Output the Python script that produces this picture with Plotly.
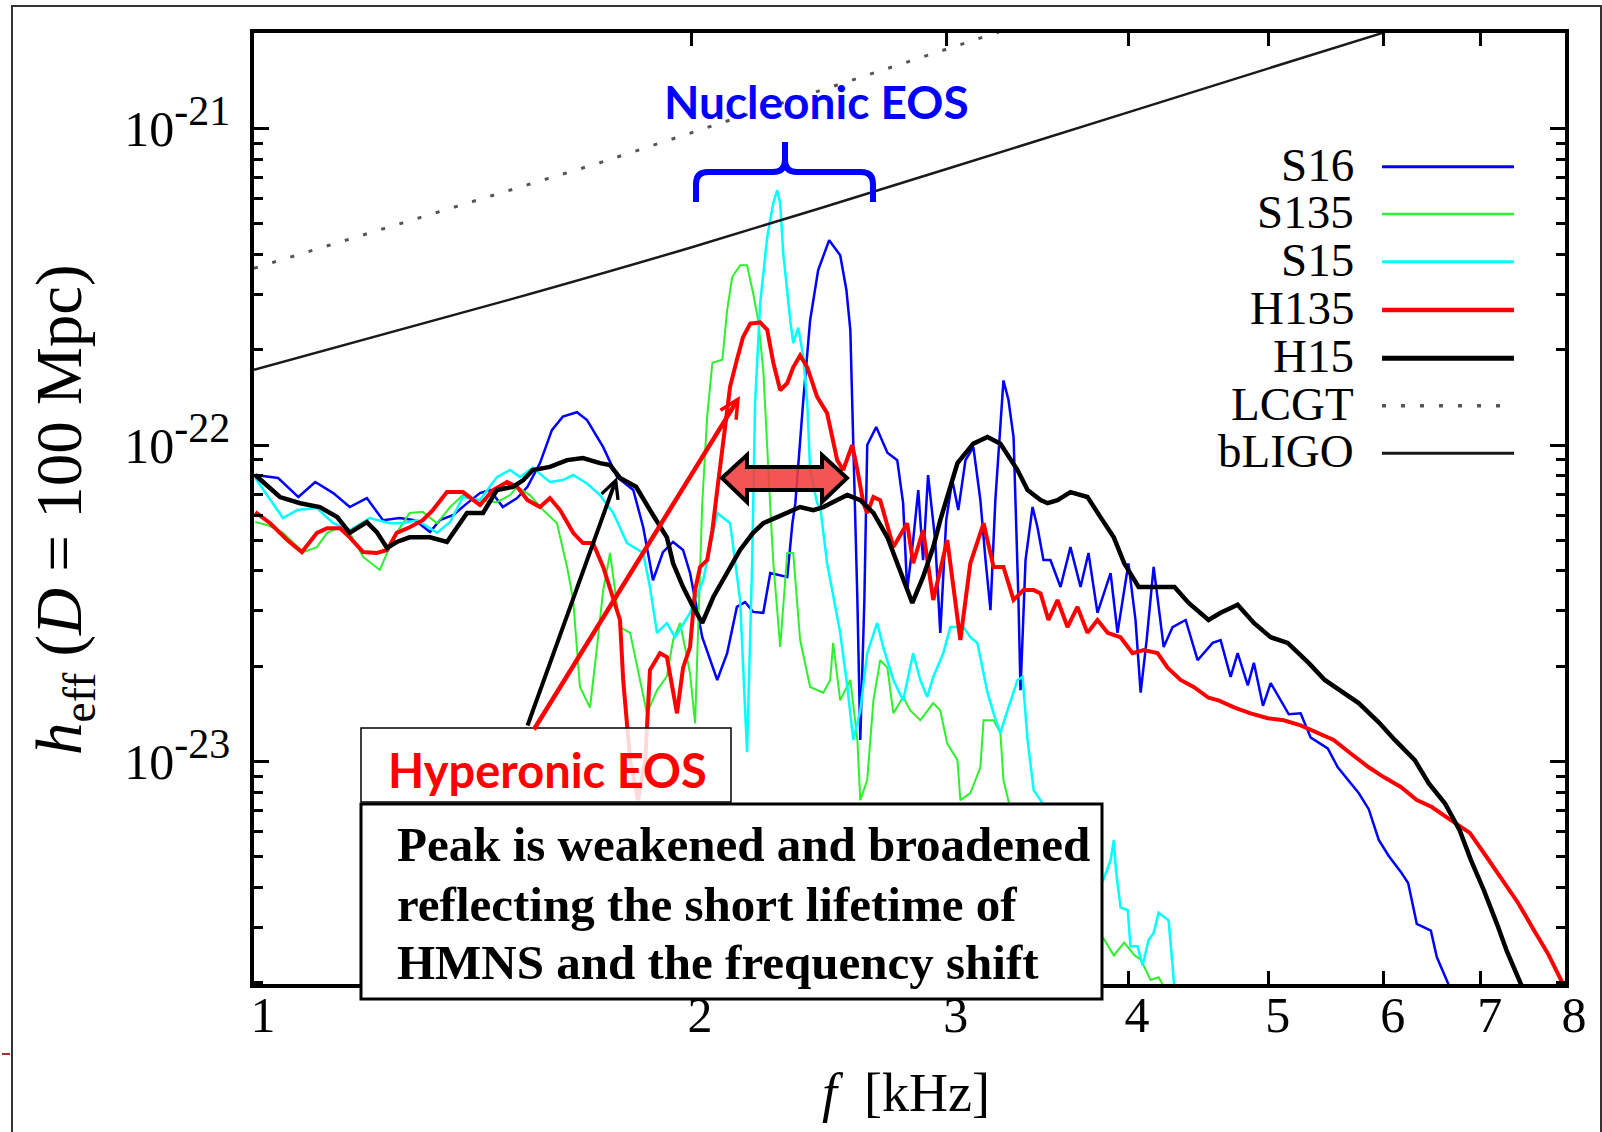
import math
import plotly.graph_objects as go

# ---------------- data (f in kHz, h_eff) ----------------
S16 = [(1.002,8.04e-23),(1.039,7.87e-23),(1.073,6.85e-23),(1.102,7.64e-23),(1.134,7.05e-23),(1.164,6.37e-23),
       (1.196,6.80e-23),(1.227,5.79e-23),(1.260,5.88e-23),(1.291,5.79e-23),(1.322,5.31e-23),(1.343,5.79e-23),
       (1.372,6.01e-23),(1.397,6.46e-23),(1.431,7.05e-23),(1.454,7.21e-23),(1.484,6.37e-23),(1.518,6.80e-23),
       (1.543,7.38e-23),(1.574,8.77e-23),(1.604,1.115e-22),(1.632,1.23e-22),(1.669,1.27e-22),(1.696,1.20e-22),
       (1.740,9.85e-23),(1.779,7.92e-23),(1.825,7.21e-23),(1.854,5.50e-23),(1.883,3.74e-23),(1.913,4.59e-23),
       (1.944,4.94e-23),(1.975,4.66e-23),(1.997,3.94e-23),(2.036,2.47e-23),(2.085,1.81e-23),(2.118,2.20e-23),
       (2.151,3.08e-23),(2.179,3.19e-23),(2.207,2.97e-23),(2.243,2.95e-23),(2.268,3.94e-23),(2.330,3.83e-23),
       (2.349,5.66e-23),(2.360,6.55e-23),(2.390,1.39e-22),(2.416,2.48e-22),(2.447,3.57e-22),(2.490,4.44e-22),
       (2.534,3.98e-22),(2.559,3.09e-22),(2.575,2.31e-22),(2.583,1.39e-22),(2.591,7.75e-23),(2.604,3.24e-23),
       (2.616,1.17e-23),(2.633,3.24e-23),(2.645,1.00e-22),(2.683,1.14e-22),(2.731,9.45e-23),(2.774,8.96e-23),
       (2.800,6.55e-23),(2.818,3.48e-23),(2.845,5.01e-23),(2.868,7.21e-23),(2.890,4.33e-23),(2.913,8.04e-23),
       (2.946,5.01e-23),(2.970,2.55e-23),(2.998,5.79e-23),(3.027,7.75e-23),(3.056,6.23e-23),(3.091,8.96e-23),
       (3.130,9.85e-23),(3.165,6.70e-23),(3.191,4.33e-23),(3.216,3.01e-23),(3.241,6.70e-23),(3.267,1.20e-22),
       (3.283,1.60e-22),(3.309,1.39e-22),(3.336,1.06e-22),(3.362,3.24e-23),(3.373,1.68e-23),(3.400,4.33e-23),
       (3.438,6.37e-23),(3.465,5.50e-23),(3.498,4.33e-23),(3.537,4.33e-23),(3.594,3.56e-23),(3.651,4.76e-23),
       (3.710,3.56e-23),(3.757,4.56e-23),(3.811,2.95e-23),(3.891,3.94e-23),(3.934,2.55e-23),(4.003,4.23e-23),
       (4.048,2.80e-23),(4.081,1.65e-23),(4.120,2.42e-23),(4.166,4.12e-23),(4.233,2.30e-23),(4.293,2.66e-23),
       (4.383,2.80e-23),(4.467,2.09e-23),(4.575,2.37e-23),(4.633,2.42e-23),(4.707,1.85e-23),(4.760,2.20e-23),
       (4.837,1.74e-23),(4.884,2.05e-23),(4.955,1.50e-23),(5.016,1.77e-23),(5.162,1.41e-23),(5.260,1.42e-23),
       (5.345,1.19e-23),(5.491,1.10e-23),(5.579,9.59e-24),(5.767,7.95e-24),(5.860,7.07e-24),(5.954,5.65e-24),
       (6.049,5.03e-24),(6.166,4.48e-24),(6.238,4.13e-24),(6.324,3.07e-24),(6.467,2.92e-24),(6.528,2.41e-24),
       (6.633,2.04e-24),(6.698,1.83e-24)]

S135 = [(1.002,5.71e-23),(1.022,5.58e-23),(1.047,5.28e-23),(1.081,4.59e-23),(1.105,4.76e-23),(1.123,5.28e-23),
        (1.146,5.50e-23),(1.164,5.28e-23),(1.189,4.43e-23),(1.221,4.03e-23),(1.235,4.56e-23),(1.254,5.28e-23),
        (1.280,6.10e-23),(1.307,6.15e-23),(1.337,5.66e-23),(1.365,6.37e-23),(1.393,6.95e-23),(1.424,6.70e-23),
        (1.470,6.60e-23),(1.501,6.95e-23),(1.518,7.38e-23),(1.549,6.95e-23),(1.582,6.23e-23),(1.617,5.66e-23),
        (1.643,4.12e-23),(1.659,3.24e-23),(1.677,1.72e-23),(1.704,1.48e-23),(1.723,2.30e-23),(1.740,3.48e-23),
        (1.759,4.56e-23),(1.787,2.66e-23),(1.816,2.55e-23),(1.845,1.81e-23),(1.865,1.42e-23),(1.895,1.68e-23),
        (1.925,1.86e-23),(1.944,2.42e-23),(1.966,2.74e-23),(1.997,1.90e-23),(2.013,1.32e-23),(2.036,6.55e-23),
        (2.052,1.23e-22),(2.069,1.82e-22),(2.102,1.86e-22),(2.118,2.67e-22),(2.135,3.39e-22),(2.162,3.70e-22),
        (2.186,3.70e-22),(2.207,3.02e-22),(2.225,2.48e-22),(2.243,1.72e-22),(2.257,9.45e-23),(2.268,6.37e-23),
        (2.279,4.23e-23),(2.304,2.30e-23),(2.330,4.56e-23),(2.352,4.56e-23),(2.378,2.42e-23),(2.416,1.72e-23),
        (2.467,1.65e-23),(2.494,1.81e-23),(2.506,2.37e-23),(2.534,1.56e-23),(2.575,1.81e-23),(2.604,1.17e-23),
        (2.616,7.55e-24),(2.645,8.74e-24),(2.671,1.56e-23),(2.700,2.09e-23),(2.731,1.98e-23),(2.757,1.42e-23),
        (2.800,1.60e-23),(2.832,1.45e-23),(2.877,1.35e-23),(2.937,1.53e-23),(2.970,1.45e-23),(3.003,1.14e-23),
        (3.052,1.01e-23),(3.066,7.55e-24),(3.115,7.95e-24),(3.165,9.59e-24),(3.181,1.35e-23),(3.232,1.35e-23),
        (3.267,1.23e-23),(3.283,8.74e-24),(3.373,5.2e-24),(3.537,3.65e-24),(3.710,3.0e-24),(3.846,2.77e-24),
        (3.911,2.44e-24),(3.976,2.68e-24),(4.042,2.44e-24),(4.081,2.37e-24),(4.146,2.04e-24),(4.199,2.08e-24),
        (4.246,1.9e-24)]

S15 = [(1.002,7.87e-23),(1.021,6.95e-23),(1.047,5.88e-23),(1.071,6.23e-23),(1.105,6.32e-23),(1.134,5.66e-23),
       (1.164,5.38e-23),(1.202,5.88e-23),(1.240,5.66e-23),(1.267,5.66e-23),(1.295,5.79e-23),(1.337,5.28e-23),
       (1.365,5.71e-23),(1.393,6.85e-23),(1.431,6.70e-23),(1.470,7.92e-23),(1.501,8.34e-23),(1.525,7.92e-23),
       (1.556,8.47e-23),(1.599,7.64e-23),(1.632,7.75e-23),(1.659,8.04e-23),(1.696,7.56e-23),(1.731,6.95e-23),
       (1.768,6.10e-23),(1.807,4.90e-23),(1.854,4.56e-23),(1.874,3.56e-23),(1.895,2.55e-23),(1.925,2.74e-23),
       (1.950,2.47e-23),(1.997,2.95e-23),(2.039,3.74e-23),(2.085,6.10e-23),(2.128,5.66e-23),(2.162,3.24e-23),
       (2.186,1.07e-23),(2.204,4.33e-23),(2.214,1.36e-22),(2.232,2.81e-22),(2.257,4.54e-22),(2.279,5.82e-22),
       (2.293,6.39e-22),(2.304,5.82e-22),(2.315,4.04e-22),(2.341,2.48e-22),(2.352,2.10e-22),(2.371,2.35e-22),
       (2.390,1.90e-22),(2.405,1.36e-22),(2.416,8.34e-23),(2.443,6.55e-23),(2.455,6.37e-23),(2.482,4.23e-23),
       (2.534,2.55e-23),(2.563,1.72e-23),(2.587,1.17e-23),(2.616,1.45e-23),(2.645,2.20e-23),(2.687,2.74e-23),
       (2.713,2.30e-23),(2.757,1.81e-23),(2.800,1.56e-23),(2.845,2.20e-23),(2.877,1.81e-23),(2.909,1.60e-23),
       (2.937,1.85e-23),(2.984,2.20e-23),(3.018,2.66e-23),(3.081,2.66e-23),(3.115,2.47e-23),(3.150,2.37e-23),
       (3.201,1.65e-23),(3.232,1.42e-23),(3.267,1.23e-23),(3.304,1.45e-23),(3.357,1.81e-23),(3.384,1.85e-23),
       (3.411,1.17e-23),(3.444,8.12e-24),(3.594,6.1e-24),(3.769,4.5e-24),(3.846,4.22e-24),(3.891,4.88e-24),
       (3.911,5.65e-24),(3.924,4.54e-24),(3.953,3.46e-24),(3.998,3.39e-24),(4.016,2.61e-24),(4.061,2.61e-24),
       (4.094,2.27e-24),(4.133,2.73e-24),(4.166,2.87e-24),(4.199,3.33e-24),(4.266,3.15e-24),(4.293,2.27e-24),
       (4.306,1.9e-24)]

H135 = [(1.002,6.14e-23),(1.026,5.66e-23),(1.054,5.01e-23),(1.079,4.59e-23),(1.105,5.28e-23),(1.123,5.46e-23),
        (1.146,5.46e-23),(1.164,5.11e-23),(1.189,4.59e-23),(1.215,4.56e-23),(1.235,4.66e-23),(1.254,5.28e-23),
        (1.280,5.50e-23),(1.307,5.79e-23),(1.328,6.23e-23),(1.358,7.10e-23),(1.393,7.10e-23),(1.431,6.46e-23),
        (1.461,7.21e-23),(1.494,7.64e-23),(1.518,7.38e-23),(1.543,6.70e-23),(1.574,6.37e-23),(1.599,6.80e-23),
        (1.625,6.23e-23),(1.659,5.28e-23),(1.685,4.90e-23),(1.712,4.90e-23),(1.740,4.12e-23),(1.768,3.31e-23),
        (1.787,2.80e-23),(1.796,1.81e-23),(1.816,1.01e-23),(1.839,7.55e-24),(1.860,1.01e-23),(1.874,1.945e-23),
        (1.904,2.20e-23),(1.925,2.14e-23),(1.956,1.42e-23),(1.975,1.98e-23),(1.997,2.30e-23),(2.013,3.48e-23),
        (2.029,4.12e-23),(2.052,4.33e-23),(2.069,5.38e-23),(2.085,7.21e-23),(2.112,1.20e-22),(2.128,1.53e-22),
        (2.151,1.86e-22),(2.172,2.19e-22),(2.197,2.42e-22),(2.232,2.44e-22),(2.257,2.31e-22),(2.279,1.82e-22),
        (2.304,1.49e-22),(2.330,1.57e-22),(2.352,1.76e-22),(2.378,1.92e-22),(2.405,1.76e-22),(2.443,1.42e-22),
        (2.482,1.26e-22),(2.522,8.96e-23),(2.546,8.34e-23),(2.583,1.00e-22),(2.604,8.34e-23),(2.629,6.55e-23),
        (2.645,6.10e-23),(2.671,6.85e-23),(2.700,6.70e-23),(2.757,4.76e-23),(2.818,5.66e-23),(2.845,4.23e-23),
        (2.890,5.38e-23),(2.937,3.24e-23),(3.003,5.01e-23),(3.066,2.42e-23),(3.115,4.23e-23),(3.181,5.66e-23),
        (3.232,4.12e-23),(3.283,4.12e-23),(3.336,3.24e-23),(3.389,3.48e-23),(3.444,3.48e-23),(3.482,3.40e-23),
        (3.526,2.80e-23),(3.577,3.24e-23),(3.634,2.66e-23),(3.692,3.08e-23),(3.751,2.55e-23),(3.811,2.80e-23),
        (3.873,2.55e-23),(3.953,2.47e-23),(4.029,2.20e-23),(4.101,2.25e-23),(4.192,2.20e-23),(4.259,1.98e-23),
        (4.348,1.81e-23),(4.439,1.72e-23),(4.545,1.59e-23),(4.618,1.56e-23),(4.737,1.48e-23),(4.859,1.42e-23),
        (4.992,1.37e-23),(5.121,1.35e-23),(5.260,1.30e-23),(5.404,1.23e-23),(5.543,1.17e-23),(5.695,1.06e-23),
        (5.860,9.59e-24),(6.001,8.93e-24),(6.166,8.31e-24),(6.324,7.55e-24),(6.477,7.18e-24),(6.675,6.53e-24),
        (6.879,5.95e-24),(7.034,5.14e-24),(7.227,4.31e-24),(7.425,3.58e-24),(7.619,2.92e-24),(7.787,2.47e-24),
        (7.950,2.04e-24),(8.0,1.90e-24)]

H15 = [(1.002,8.04e-23),(1.021,7.47e-23),(1.042,6.85e-23),(1.076,6.55e-23),(1.110,6.37e-23),(1.141,5.92e-23),
       (1.164,5.28e-23),(1.196,5.71e-23),(1.215,5.31e-23),(1.235,4.73e-23),(1.254,4.94e-23),(1.280,5.11e-23),
       (1.322,5.11e-23),(1.358,4.94e-23),(1.380,5.50e-23),(1.402,6.10e-23),(1.438,6.10e-23),(1.470,7.21e-23),
       (1.508,7.38e-23),(1.533,7.75e-23),(1.556,8.34e-23),(1.599,8.53e-23),(1.643,8.96e-23),(1.685,9.10e-23),
       (1.731,8.77e-23),(1.759,8.64e-23),(1.787,7.87e-23),(1.833,7.38e-23),(1.883,6.01e-23),(1.925,5.11e-23),
       (1.944,4.23e-23),(1.975,3.56e-23),(2.007,3.08e-23),(2.036,2.74e-23),(2.072,3.31e-23),(2.118,3.94e-23),
       (2.162,4.66e-23),(2.207,5.28e-23),(2.243,5.66e-23),(2.293,5.92e-23),(2.330,6.10e-23),(2.378,6.37e-23),
       (2.428,6.23e-23),(2.467,6.37e-23),(2.522,6.70e-23),(2.563,6.95e-23),(2.616,6.70e-23),(2.671,6.10e-23),
       (2.731,5.11e-23),(2.787,4.03e-23),(2.841,3.17e-23),(2.890,3.83e-23),(2.937,4.76e-23),(2.970,5.79e-23),
       (3.003,6.85e-23),(3.052,8.77e-23),(3.130,1.01e-22),(3.201,1.06e-22),(3.267,1.01e-22),(3.357,8.34e-23),
       (3.411,7.21e-23),(3.482,6.70e-23),(3.521,6.55e-23),(3.577,6.70e-23),(3.651,7.10e-23),(3.751,6.85e-23),
       (3.829,5.92e-23),(3.911,5.11e-23),(3.976,4.23e-23),(4.068,3.56e-23),(4.199,3.56e-23),(4.306,3.56e-23),
       (4.404,3.17e-23),(4.545,2.80e-23),(4.633,2.95e-23),(4.760,3.13e-23),(4.884,2.74e-23),(5.016,2.47e-23),
       (5.153,2.37e-23),(5.327,2.05e-23),(5.465,1.81e-23),(5.605,1.68e-23),(5.767,1.53e-23),(5.954,1.33e-23),
       (6.107,1.17e-23),(6.304,1.01e-23),(6.446,8.53e-24),(6.612,7.38e-24),(6.770,6.06e-24),(6.891,4.88e-24),
       (7.034,3.92e-24),(7.181,3.07e-24),(7.296,2.51e-24),(7.460,1.98e-24),(7.52,1.8e-24)]

LCGT = [(1.0,3.62e-22),(1.731,7.8e-22),(3.26,2.02e-21)]
BLIGO = [(1.0,1.73e-22),(1.5,2.88e-22),(2.0,4.21e-22),(3.0,7.45e-22),(4.0,1.125e-21),(5.0,1.55e-21),(6.0,2.01e-21)]

SERIES_NAMES = ["S16", "S135", "S15", "H135", "H15", "LCGT", "bLIGO"]
X_TICKS = [1, 2, 3, 4, 5, 6, 7, 8]
Y_TICKS = [1e-23, 1e-22, 1e-21]
Y_EXPONENTS = ["-23", "-22", "-21"]
Y_MINOR = [m * 10.0 ** e for e in (-24, -23, -22, -21) for m in range(2, 10)]

# ---------------- styling ----------------
STYLES = {
    "S16":   dict(color="#0000ff", width=2.5, dash="solid", shape="linear"),
    "S135":  dict(color="#2ef02e", width=2.0, dash="solid", shape="linear"),
    "S15":   dict(color="#00ffff", width=2.5, dash="solid", shape="linear"),
    "H135":  dict(color="#ff0000", width=4.0, dash="solid", shape="linear"),
    "H15":   dict(color="#000000", width=4.5, dash="solid", shape="linear"),
    "LCGT":  dict(color="#555555", width=3.0, dash="4px,15px", shape="linear"),
    "bLIGO": dict(color="#1a1a1a", width=2.5, dash="solid", shape="spline"),
}
DATA = {"S16": S16, "S135": S135, "S15": S15, "H135": H135, "H15": H15, "LCGT": LCGT, "bLIGO": BLIGO}

SERIF = "Liberation Serif"
SANS = "Lato"

# plot area in pixels
L, R, T, B = 254, 1565, 33, 984
W, H = R - L, B - T


def X(px):
    return (px - L) / W


def Y(py):
    return (B - py) / H


def path(points, close=False):
    s = "M " + " L ".join(f"{X(a):.5f},{Y(b):.5f}" for a, b in points)
    return s + (" Z" if close else "")


fig = go.Figure()
for name in SERIES_NAMES:
    pts = DATA[name]
    st = STYLES[name]
    fig.add_trace(go.Scatter(
        x=[p[0] for p in pts], y=[p[1] for p in pts], mode="lines", name=name,
        line=dict(color=st["color"], width=st["width"], dash=st["dash"], shape=st["shape"]),
        showlegend=False, hoverinfo="skip"))

shapes = []
annotations = []

# outer frame
shapes.append(dict(type="rect", xref="paper", yref="paper", x0=X(12), y0=Y(1145), x1=X(1601), y1=Y(6),
                   line=dict(color="#333333", width=2), fillcolor="rgba(0,0,0,0)", layer="above"))
shapes.append(dict(type="line", xref="paper", yref="paper", x0=X(2), y0=Y(1054), x1=X(10), y1=Y(1054),
                   line=dict(color="#a03030", width=2)))

# blue brace
brace = (f"M {X(696):.5f},{Y(202):.5f} L {X(696):.5f},{Y(184):.5f} "
         f"Q {X(696):.5f},{Y(172):.5f} {X(708):.5f},{Y(172):.5f} L {X(773):.5f},{Y(172):.5f} "
         f"Q {X(785):.5f},{Y(172):.5f} {X(785):.5f},{Y(160):.5f} L {X(785):.5f},{Y(142):.5f} "
         f"L {X(785):.5f},{Y(160):.5f} Q {X(785):.5f},{Y(172):.5f} {X(797):.5f},{Y(172):.5f} "
         f"L {X(861):.5f},{Y(172):.5f} Q {X(873):.5f},{Y(172):.5f} {X(873):.5f},{Y(184):.5f} "
         f"L {X(873):.5f},{Y(202):.5f}")
shapes.append(dict(type="path", xref="paper", yref="paper", path=brace,
                   line=dict(color="#0000ff", width=6), fillcolor="rgba(0,0,0,0)", layer="above"))

# red double-headed block arrow
dbl = [(722, 478), (747, 455), (747, 467), (822, 467), (822, 455), (847, 478), (822, 502),
       (822, 490), (747, 490), (747, 502)]
shapes.append(dict(type="path", xref="paper", yref="paper", path=path(dbl, close=True),
                   line=dict(color="#000000", width=4), fillcolor="rgba(242,60,60,0.88)", layer="above"))

# text boxes
shapes.append(dict(type="rect", xref="paper", yref="paper", x0=X(361), y0=Y(802), x1=X(731), y1=Y(728),
                   line=dict(color="#000000", width=1.5), fillcolor="rgba(255,255,255,0.85)", layer="above"))
shapes.append(dict(type="rect", xref="paper", yref="paper", x0=X(361), y0=Y(999), x1=X(1102), y1=Y(804),
                   line=dict(color="#000000", width=3), fillcolor="#ffffff", layer="above"))

# legend (labels to the left of the samples)
leg_rows = [166.7, 214, 261.7, 310, 358.3, 405.7, 453.3]
for name, yy in zip(SERIES_NAMES, leg_rows):
    st = STYLES[name]
    shapes.append(dict(type="line", xref="paper", yref="paper", x0=X(1382), x1=X(1514), y0=Y(yy), y1=Y(yy),
                       line=dict(color=st["color"], width=st["width"] + 0.5, dash=st["dash"]), layer="above"))
    annotations.append(dict(xref="paper", yref="paper", x=X(1356), y=Y(yy - 2), xanchor="right",
                            yanchor="middle", text=name, showarrow=False,
                            font=dict(family=SERIF, size=47, color="#000000")))

# annotation texts
annotations.append(dict(xref="paper", yref="paper", x=X(816), y=Y(101), xanchor="center", yanchor="middle",
                        text="<b>Nucleonic EOS</b>", showarrow=False,
                        font=dict(family=SANS, size=46, color="#0000ff")))
annotations.append(dict(xref="paper", yref="paper", x=X(547), y=Y(770), xanchor="center", yanchor="middle",
                        text="<b>Hyperonic EOS</b>", showarrow=False,
                        font=dict(family=SANS, size=47, color="#ff0000")))
for txt, yc in [("Peak is weakened and broadened", 844),
                ("reflecting the short lifetime of", 904),
                ("HMNS and the frequency shift", 962)]:
    annotations.append(dict(xref="paper", yref="paper", x=X(395), y=Y(yc), xanchor="left", yanchor="middle",
                            text=f"<b>{txt}</b>", showarrow=False, align="left",
                            font=dict(family=SERIF, size=49, color="#000000")))

# arrows
annotations.append(dict(xref="paper", yref="paper", x=X(617), y=Y(477), ax=527 - 617, ay=727 - 477,
                        axref="pixel", ayref="pixel", text="", showarrow=True, arrowhead=5, arrowsize=0.85,
                        arrowwidth=4, arrowcolor="#000000", standoff=0))
annotations.append(dict(xref="paper", yref="paper", x=X(740), y=Y(396), ax=533 - 740, ay=731 - 396,
                        axref="pixel", ayref="pixel", text="", showarrow=True, arrowhead=5, arrowsize=0.8,
                        arrowwidth=4.5, arrowcolor="#ff0000", standoff=0))

# axis titles
annotations.append(dict(xref="paper", yref="paper", x=X(906), y=Y(1093), xanchor="center", yanchor="middle",
                        text="<i>f</i>  [kHz]", showarrow=False,
                        font=dict(family=SERIF, size=54, color="#000000")))
annotations.append(dict(xref="paper", yref="paper", x=X(64), y=Y(510), xanchor="center", yanchor="middle",
                        text="<i>h</i><sub>eff</sub> (<i>D</i> = 100 Mpc)", textangle=-90, showarrow=False,
                        font=dict(family=SERIF, size=65, color="#000000")))

y_tick_text = [f"10<sup><span style='font-size:42px'>{e}</span></sup>" for e in Y_EXPONENTS]

fig.update_layout(
    width=1602, height=1132, autosize=False,
    margin=dict(l=L, r=1602 - R, t=T, b=1132 - B, pad=0),
    paper_bgcolor="#ffffff", plot_bgcolor="#ffffff",
    shapes=shapes, annotations=annotations, showlegend=False,
    xaxis=dict(type="log", range=[0, math.log10(8)], tickmode="array", tickvals=X_TICKS,
               ticktext=[str(v) for v in X_TICKS], ticks="inside", ticklen=13, tickwidth=3, tickcolor="#000",
               showline=True, linecolor="#000", linewidth=3.5, mirror="ticks", showgrid=False, zeroline=False,
               tickfont=dict(family=SERIF, size=50, color="#000"), ticklabelstandoff=-16, ticklabelshift=9,
               automargin=False),
    yaxis=dict(type="log", range=[-23.703, -20.698], tickmode="array", tickvals=Y_TICKS, ticktext=y_tick_text,
               ticks="inside", ticklen=15, tickwidth=3, tickcolor="#000",
               minor=dict(tickmode="array", tickvals=Y_MINOR, ticks="inside", ticklen=9, tickwidth=3,
                          tickcolor="#000", showgrid=False),
               showline=True, linecolor="#000", linewidth=3.5, mirror="ticks", showgrid=False, zeroline=False,
               tickfont=dict(family=SERIF, size=50, color="#000"), ticklabelstandoff=10, automargin=False),
)

fig.write_html("out.html")
